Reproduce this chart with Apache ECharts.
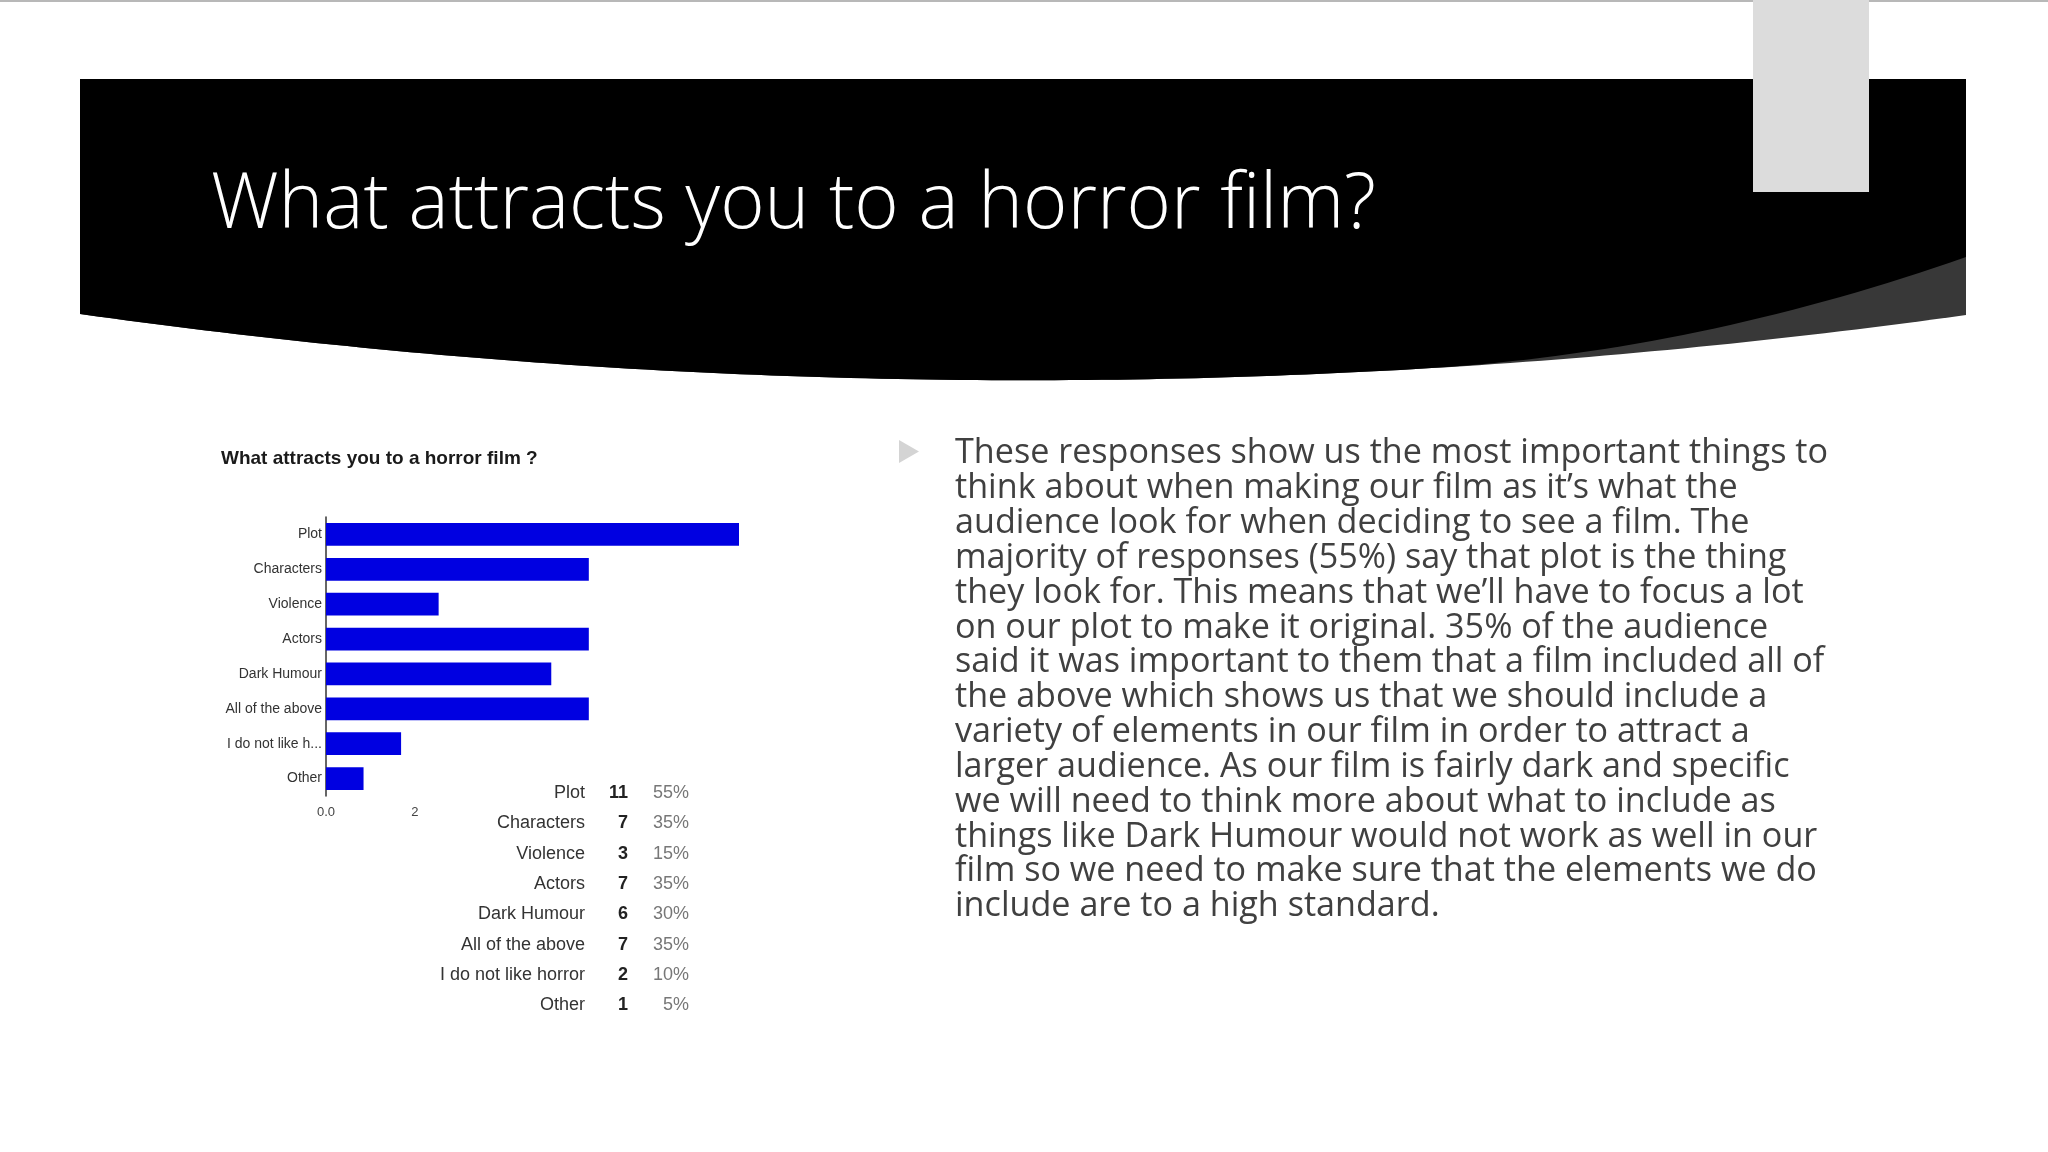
<!DOCTYPE html>
<html><head><meta charset="utf-8">
<script src="https://cdn.jsdelivr.net/npm/echarts@6/dist/echarts.min.js"></script>
<style>html,body{margin:0;padding:0;background:#fff}#c{width:2048px;height:1152px}</style>
</head><body><div id="c"></div>
<script>
// ---- data ----
const categories = ['Plot', 'Characters', 'Violence', 'Actors', 'Dark Humour', 'All of the above', 'I do not like horror', 'Other'];
const axisCategoryLabels = ['Plot', 'Characters', 'Violence', 'Actors', 'Dark Humour', 'All of the above', 'I do not like h...', 'Other'];
const counts = [11, 7, 3, 7, 6, 7, 2, 1];
const percents = ['55%', '35%', '15%', '35%', '30%', '35%', '10%', '5%'];
const xTickValues = [0, 2.37];
const xTickLabels = ['0.0', '2'];
const slideTitle = 'What attracts you to a horror film?';
const chartTitle = 'What attracts you to a horror film ?';
const bodyLines = [
  'These responses show us the most important things to',
  'think about when making our film as it\u2019s what the',
  'audience look for when deciding to see a film. The',
  'majority of responses (55%) say that plot is the thing',
  'they look for. This means that we\u2019ll have to focus a lot',
  'on our plot to make it original. 35% of the audience',
  'said it was important to them that a film included all of',
  'the above which shows us that we should include a',
  'variety of elements in our film in order to attract a',
  'larger audience. As our film is fairly dark and specific',
  'we will need to think more about what to include as',
  'things like Dark Humour would not work as well in our',
  'film so we need to make sure that the elements we do',
  'include are to a high standard.'
];

// ---- helpers ----
const mctx = document.createElement('canvas').getContext('2d');
function measure(text, font) { mctx.font = font; return mctx.measureText(text).width; }

const titleFont = '300 77px "Open Sans"';
const titleScale = 1165 / measure(slideTitle, titleFont);
const bodyFont = '400 35px "Open Sans"';
const bodyScale = 873 / measure(bodyLines[0], bodyFont);

// header shapes
const X0 = 80, X1 = 1966, TOP = 79;
function quadY(x) {
  const t = (x - X0) / (X1 - X0);
  return (1 - t) * (1 - t) * 314 + 2 * t * (1 - t) * 446 + t * t * 315;
}
function blackY(x) {
  const s = Math.max(0, (x - 1420) / (X1 - 1420));
  return quadY(x) - 58 * s * s;
}
const grayPts = [[X0, TOP], [X1, TOP]];
const blackPts = [[X0, TOP], [X1, TOP]];
for (let i = 0; i <= 120; i++) {
  const x = X1 - (X1 - X0) * i / 120;
  grayPts.push([x, quadY(x)]);
  blackPts.push([x, blackY(x)]);
}

const graphics = [
  { type: 'rect', shape: { x: 0, y: 0, width: 2048, height: 2 }, style: { fill: '#b8b8b8' }, z: 1 },
  { type: 'polygon', shape: { points: grayPts }, style: { fill: '#383838' }, z: 1 },
  { type: 'polygon', shape: { points: blackPts }, style: { fill: '#000000' }, z: 2 },
  { type: 'rect', shape: { x: 1753, y: 0, width: 116, height: 192 }, style: { fill: '#dcdcdc' }, z: 3 },
  { type: 'text', x: 211, y: 206, scaleX: titleScale, z: 4,
    style: { text: slideTitle, font: titleFont, fill: '#ffffff', align: 'left', verticalAlign: 'middle' } },
  { type: 'polygon', shape: { points: [[899, 440], [899, 463], [919, 451.5]] }, style: { fill: '#d4d4d4' }, z: 4 }
];
bodyLines.forEach((line, i) => {
  graphics.push({ type: 'text', x: 955, y: 453.3 + 34.85 * i, scaleX: bodyScale, z: 4,
    style: { text: line, font: bodyFont, fill: '#404040', align: 'left', verticalAlign: 'middle' } });
});
// table of values beside the chart
categories.forEach((c, i) => {
  const y = 793 + 30.33 * i;
  graphics.push({ type: 'text', x: 585, y: y, z: 5,
    style: { text: c, font: '18px "Liberation Sans", Arial', fill: '#333', align: 'right', verticalAlign: 'middle' } });
  graphics.push({ type: 'text', x: 628, y: y, z: 5,
    style: { text: String(counts[i]), font: 'bold 18px "Liberation Sans", Arial', fill: '#222', align: 'right', verticalAlign: 'middle' } });
  graphics.push({ type: 'text', x: 689, y: y, z: 5,
    style: { text: percents[i], font: '18px "Liberation Sans", Arial', fill: '#777', align: 'right', verticalAlign: 'middle' } });
});

const chart = echarts.init(document.getElementById('c'), null, { renderer: 'canvas' });
chart.setOption({
  backgroundColor: '#ffffff',
  animation: false,
  title: {
    text: chartTitle, left: 221, top: 449,
    textStyle: { fontFamily: '"Liberation Sans", Arial', fontSize: 19, fontWeight: 'bold', color: '#1a1a1a' },
    padding: 0
  },
  grid: { left: 326, top: 517, width: 413, height: 279, containLabel: false },
  xAxis: {
    type: 'value', min: 0, max: 11,
    axisLine: { show: false }, axisTick: { show: false }, splitLine: { show: false },
    axisLabel: {
      customValues: xTickValues,
      formatter: (v) => { const k = xTickValues.findIndex(t => Math.abs(t - v) < 1e-6); return k >= 0 ? xTickLabels[k] : ''; },
      fontFamily: '"Liberation Sans", Arial', fontSize: 13, color: '#444', margin: 10
    }
  },
  yAxis: {
    type: 'category', inverse: true, data: axisCategoryLabels,
    axisLine: { show: true, lineStyle: { color: '#333', width: 1.5 } },
    axisTick: { show: false },
    axisLabel: { fontFamily: '"Liberation Sans", Arial', fontSize: 14, color: '#333', margin: 4, interval: 0 }
  },
  series: [{
    type: 'bar', data: counts, barCategoryGap: '35%',
    itemStyle: { color: '#0000e1' }, silent: true
  }],
  graphic: { elements: graphics }
});
</script></body></html>
